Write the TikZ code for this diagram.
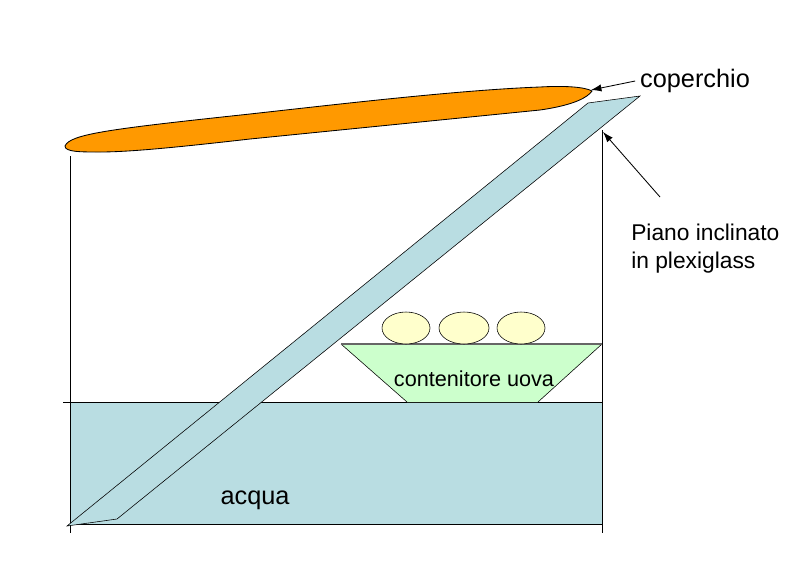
\documentclass[tikz,border=0pt]{standalone}
\usepackage{fontspec}
\setmainfont{Liberation Sans}
\usepackage{xcolor}
\usetikzlibrary{arrows.meta}
\definecolor{acquacol}{HTML}{B9DDE2}
\definecolor{lidcol}{HTML}{FF9900}
\definecolor{traycol}{HTML}{CCFFCC}
\definecolor{eggcol}{HTML}{FFFFCC}
\tikzset{
    thinline/.style = {draw = black, line width = 0.4pt},
    wall/.style = {draw = black, line width = 0.5pt},
    pointer/.style = {draw = black, line width = 0.6pt, -{Latex[length = 2.6mm, width = 1.8mm]}},
    egg/.style = {thinline, fill = eggcol},
}

\begin{document}
\begin{tikzpicture}[x = 0.25mm, y = -0.25mm]
        \useasboundingbox (0, 0) rectangle (789, 563);

        % water and walls
        \fill [acquacol] (70, 402) rectangle (602, 524);
        \draw [wall] (70, 156) -- (70, 533);
        \draw [wall] (602, 130) -- (602, 533);
        \draw [wall] (63, 402) -- (602, 402);
        \draw [wall] (70, 524) -- (602, 524);

        % plexiglass
        \draw [thinline, fill = acquacol] (67, 526) -- (588, 103) -- (640, 96)
            -- (117, 519) -- cycle;

        % lid
        \draw [thinline, line width = 0.6pt, fill = lidcol] (65, 146)
            .. controls (70, 134) and (110, 129) .. (250, 114)
            .. controls (340, 104) and (460, 90) .. (540, 87)
            .. controls (565, 85.5) and (585, 87) .. (592, 91)
            .. controls (588, 97) and (575, 105) .. (540, 110)
            .. controls (450, 119) and (340, 130) .. (250, 139)
            .. controls (180, 147) and (130, 152) .. (100, 152)
            .. controls (80, 152) and (65, 152) .. cycle;

        % tray and eggs
        \fill [traycol] (341, 344) -- (602, 344) -- (538, 402) -- (407, 402) -- cycle;
        \draw [thinline] (407, 402) -- (341, 344);
        \draw [thinline] (538, 402) -- (602, 344);
        \draw [black!60, line width = 1pt] (341, 344) -- (602, 344);
        \draw [egg] (406, 328) ellipse (24 and 16);
        \draw [egg] (464, 328) ellipse (25 and 16);
        \draw [egg] (521, 328) ellipse (24 and 16);

        % labels
        \node (coperchio) at (695, 81) {\fontsize{18}{22}\selectfont coperchio};
        \node [anchor = west, align = left, inner sep = 0pt,
            font = \fontsize{16.2}{20}\selectfont] (piano) at (631, 249)
            {Piano inclinato\\in plexiglass};
        \node (contenitore) at (474, 379) {\fontsize{15.4}{18}\selectfont contenitore uova};
        \node (acqua) at (255, 500) {\fontsize{18}{22}\selectfont acqua};

        % pointers
        \coordinate (lidtip) at (591, 90);
        \coordinate (pianotail) at (660, 197);
        \coordinate (pianotip) at (603, 132);
        \draw [pointer] (coperchio.west) -- (lidtip);
        \draw [pointer] (pianotail) -- (pianotip);
\end{tikzpicture}
\end{document}
